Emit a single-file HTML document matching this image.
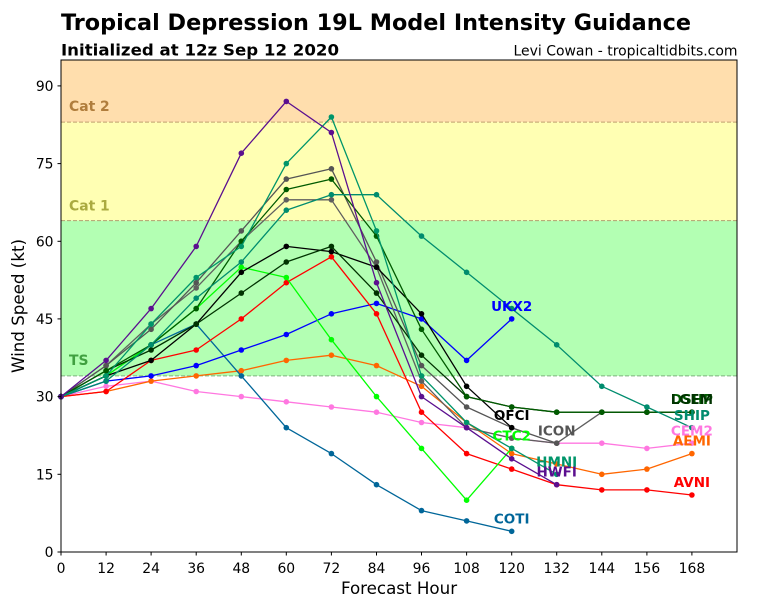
<!DOCTYPE html>
<html><head><meta charset="utf-8"><style>
html,body{margin:0;padding:0;background:#fff;}
svg{display:block;}
text{font-family:"DejaVu Sans","Liberation Sans",sans-serif;}
</style></head><body>
<svg width="768" height="600" viewBox="0 0 768 600" xmlns="http://www.w3.org/2000/svg">
<defs>
<marker id="mHW" markerWidth="6" markerHeight="6" refX="3" refY="3" markerUnits="userSpaceOnUse"><circle cx="3" cy="3" r="2.8" fill="#5b0f8f"/></marker>
<marker id="mHM" markerWidth="6" markerHeight="6" refX="3" refY="3" markerUnits="userSpaceOnUse"><circle cx="3" cy="3" r="2.8" fill="#00956a"/></marker>
<marker id="mSH" markerWidth="6" markerHeight="6" refX="3" refY="3" markerUnits="userSpaceOnUse"><circle cx="3" cy="3" r="2.8" fill="#008c6e"/></marker>
<marker id="mIC" markerWidth="6" markerHeight="6" refX="3" refY="3" markerUnits="userSpaceOnUse"><circle cx="3" cy="3" r="2.8" fill="#555555"/></marker>
<marker id="mGB" markerWidth="6" markerHeight="6" refX="3" refY="3" markerUnits="userSpaceOnUse"><circle cx="3" cy="3" r="2.8" fill="#5f5f5f"/></marker>
<marker id="mDS" markerWidth="6" markerHeight="6" refX="3" refY="3" markerUnits="userSpaceOnUse"><circle cx="3" cy="3" r="2.8" fill="#005a00"/></marker>
<marker id="mLG" markerWidth="6" markerHeight="6" refX="3" refY="3" markerUnits="userSpaceOnUse"><circle cx="3" cy="3" r="2.8" fill="#003300"/></marker>
<marker id="mOF" markerWidth="6" markerHeight="6" refX="3" refY="3" markerUnits="userSpaceOnUse"><circle cx="3" cy="3" r="2.8" fill="#000000"/></marker>
<marker id="mCT" markerWidth="6" markerHeight="6" refX="3" refY="3" markerUnits="userSpaceOnUse"><circle cx="3" cy="3" r="2.8" fill="#00ff00"/></marker>
<marker id="mUK" markerWidth="6" markerHeight="6" refX="3" refY="3" markerUnits="userSpaceOnUse"><circle cx="3" cy="3" r="2.8" fill="#0000ff"/></marker>
<marker id="mAV" markerWidth="6" markerHeight="6" refX="3" refY="3" markerUnits="userSpaceOnUse"><circle cx="3" cy="3" r="2.8" fill="#ff0000"/></marker>
<marker id="mAE" markerWidth="6" markerHeight="6" refX="3" refY="3" markerUnits="userSpaceOnUse"><circle cx="3" cy="3" r="2.8" fill="#ff6600"/></marker>
<marker id="mCE" markerWidth="6" markerHeight="6" refX="3" refY="3" markerUnits="userSpaceOnUse"><circle cx="3" cy="3" r="2.8" fill="#ff77e0"/></marker>
<marker id="mCO" markerWidth="6" markerHeight="6" refX="3" refY="3" markerUnits="userSpaceOnUse"><circle cx="3" cy="3" r="2.8" fill="#006699"/></marker>
</defs>

<!-- Titles -->
<text x="61" y="30" font-size="22" font-weight="bold" fill="#000" textLength="630" lengthAdjust="spacingAndGlyphs">Tropical Depression 19L Model Intensity Guidance</text>
<text x="61" y="55.5" font-size="16" font-weight="bold" fill="#000" textLength="278" lengthAdjust="spacingAndGlyphs">Initialized at 12z Sep 12 2020</text>
<text x="737.5" y="55.5" font-size="13.9" fill="#000" text-anchor="end" textLength="224" lengthAdjust="spacingAndGlyphs">Levi Cowan - tropicaltidbits.com</text>

<!-- Bands -->
<rect x="61" y="60" width="676" height="62.1" fill="#ffdead"/>
<rect x="61" y="122.1" width="676" height="98.5" fill="#ffffb3"/>
<rect x="61" y="220.6" width="676" height="155.3" fill="#b3ffb3"/>
<line x1="61" y1="122.1" x2="737" y2="122.1" stroke="#c0a070" stroke-width="1" stroke-dasharray="4,2"/>
<line x1="61" y1="220.6" x2="737" y2="220.6" stroke="#b0a070" stroke-width="1" stroke-dasharray="4,2"/>
<line x1="61" y1="375.9" x2="737" y2="375.9" stroke="#80b080" stroke-width="1" stroke-dasharray="4,2"/>
<text x="69" y="111" font-size="13.9" font-weight="bold" fill="#b07d3c">Cat 2</text>
<text x="69" y="210.5" font-size="13.9" font-weight="bold" fill="#aaaa40">Cat 1</text>
<text x="69" y="365" font-size="13.9" font-weight="bold" fill="#40a040">TS</text>

<!-- Series -->
<g fill="none" stroke-width="1.3" stroke-linejoin="round">
<polyline stroke="#ff77e0" marker-start="url(#mCE)" marker-mid="url(#mCE)" marker-end="url(#mCE)" points="61,396.6 106.1,386.3 151.1,381.1 196.2,391.5 241.3,396.6 286.3,401.8 331.4,407.0 376.5,412.2 421.5,422.5 466.6,427.7 511.7,438.1 556.7,443.2 601.8,443.2 646.9,448.4 691.9,443.2"/>
<polyline stroke="#ff6600" marker-start="url(#mAE)" marker-mid="url(#mAE)" marker-end="url(#mAE)" points="61,396.6 106.1,391.5 151.1,381.1 196.2,375.9 241.3,370.7 286.3,360.4 331.4,355.2 376.5,365.6 421.5,386.3 466.6,422.5 511.7,453.6 556.7,464.0 601.8,474.3 646.9,469.1 691.9,453.6"/>
<polyline stroke="#006699" marker-start="url(#mCO)" marker-mid="url(#mCO)" marker-end="url(#mCO)" points="61,396.6 106.1,375.9 151.1,344.8 196.2,324.1 241.3,375.9 286.3,427.7 331.4,453.6 376.5,484.7 421.5,510.6 466.6,520.9 511.7,531.3"/>
<polyline stroke="#0000ff" marker-start="url(#mUK)" marker-mid="url(#mUK)" marker-end="url(#mUK)" points="61,396.6 106.1,381.1 151.1,375.9 196.2,365.6 241.3,350.0 286.3,334.5 331.4,313.8 376.5,303.4 421.5,318.9 466.6,360.4 511.7,318.9"/>
<polyline stroke="#ff0000" marker-start="url(#mAV)" marker-mid="url(#mAV)" marker-end="url(#mAV)" points="61,396.6 106.1,391.5 151.1,360.4 196.2,350.0 241.3,318.9 286.3,282.7 331.4,256.8 376.5,313.8 421.5,412.2 466.6,453.6 511.7,469.1 556.7,484.7 601.8,489.9 646.9,489.9 691.9,495.0"/>
<polyline stroke="#00ff00" marker-start="url(#mCT)" marker-mid="url(#mCT)" marker-end="url(#mCT)" points="61,396.6 106.1,375.9 151.1,344.8 196.2,308.6 241.3,267.2 286.3,277.5 331.4,339.7 376.5,396.6 421.5,448.4 466.6,500.2 511.7,448.4"/>
<polyline stroke="#5f5f5f" marker-start="url(#mGB)" marker-mid="url(#mGB)" marker-end="url(#mGB)" points="61,396.6 106.1,365.6 151.1,324.1 196.2,287.9 241.3,241.3 286.3,199.8 331.4,199.8 376.5,267.2 421.5,381.1 466.6,427.7 511.7,438.1 556.7,443.2 601.8,412.2 646.9,412.2 691.9,412.2"/>
<polyline stroke="#555555" marker-start="url(#mIC)" marker-mid="url(#mIC)" marker-end="url(#mIC)" points="61,396.6 106.1,365.6 151.1,329.3 196.2,282.7 241.3,230.9 286.3,179.1 331.4,168.8 376.5,262.0 421.5,365.6 466.6,407.0 511.7,427.7 556.7,443.2"/>
<polyline stroke="#000000" marker-start="url(#mOF)" marker-mid="url(#mOF)" marker-end="url(#mOF)" points="61,396.6 106.1,375.9 151.1,360.4 196.2,324.1 241.3,272.3 286.3,246.4 331.4,251.6 376.5,267.2 421.5,313.8 466.6,386.3 511.7,427.7"/>
<polyline stroke="#003300" marker-start="url(#mLG)" marker-mid="url(#mLG)" marker-end="url(#mLG)" points="61,396.6 106.1,370.7 151.1,350.0 196.2,324.1 241.3,293.1 286.3,262.0 331.4,246.4 376.5,293.1 421.5,355.2 466.6,396.6 511.7,407.0 556.7,412.2 601.8,412.2 646.9,412.2 691.9,412.2"/>
<polyline stroke="#005a00" marker-start="url(#mDS)" marker-mid="url(#mDS)" marker-end="url(#mDS)" points="61,396.6 106.1,370.7 151.1,344.8 196.2,308.6 241.3,241.3 286.3,189.5 331.4,179.1 376.5,236.1 421.5,329.3 466.6,396.6 511.7,407.0 556.7,412.2 601.8,412.2 646.9,412.2 691.9,412.2"/>
<polyline stroke="#008c6e" marker-start="url(#mSH)" marker-mid="url(#mSH)" marker-end="url(#mSH)" points="61,396.6 106.1,381.1 151.1,344.8 196.2,298.2 241.3,262.0 286.3,210.2 331.4,194.7 376.5,194.7 421.5,236.1 466.6,272.3 511.7,308.6 556.7,344.8 601.8,386.3 646.9,407.0 691.9,427.7"/>
<polyline stroke="#00956a" marker-start="url(#mHM)" marker-mid="url(#mHM)" marker-end="url(#mHM)" points="61,396.6 106.1,375.9 151.1,324.1 196.2,277.5 241.3,246.4 286.3,163.6 331.4,117.0 376.5,230.9 421.5,375.9 466.6,422.5 511.7,448.4 556.7,474.3"/>
<polyline stroke="#5b0f8f" marker-start="url(#mHW)" marker-mid="url(#mHW)" marker-end="url(#mHW)" points="61,396.6 106.1,360.4 151.1,308.6 196.2,246.4 241.3,153.2 286.3,101.4 331.4,132.5 376.5,282.7 421.5,396.6 466.6,427.7 511.7,458.8 556.7,484.7"/>
</g>

<!-- Series labels -->
<g font-size="13.5" font-weight="bold" text-anchor="middle">
<text x="511.7" y="311" fill="#0000ff">UKX2</text>
<text x="511.7" y="420" fill="#000000">OFCI</text>
<text x="511.7" y="440.5" fill="#00ff00">CTC2</text>
<text x="511.7" y="523.3" fill="#006699">COTI</text>
<text x="556.7" y="435.3" fill="#555555">ICON</text>
<text x="556.7" y="466.4" fill="#00956a">HMNI</text>
<text x="556.7" y="476.7" fill="#5b0f8f">HWFI</text>
<text x="691.9" y="404.2" fill="#005a00">DSHP</text>
<text x="691.9" y="404.2" fill="#003300">LGEM</text>
<text x="691.9" y="419.8" fill="#008c6e">SHIP</text>
<text x="691.9" y="435.3" fill="#ff77e0">CEM2</text>
<text x="691.9" y="445.7" fill="#ff6600">AEMI</text>
<text x="691.9" y="487.1" fill="#ff0000">AVNI</text>
</g>

<!-- Frame -->
<rect x="61" y="60" width="676" height="492" fill="none" stroke="#000" stroke-width="1"/>

<!-- Y ticks -->
<g stroke="#000" stroke-width="1">
<line x1="57.5" y1="552" x2="61" y2="552"/>
<line x1="57.5" y1="474.3" x2="61" y2="474.3"/>
<line x1="57.5" y1="396.6" x2="61" y2="396.6"/>
<line x1="57.5" y1="318.9" x2="61" y2="318.9"/>
<line x1="57.5" y1="241.3" x2="61" y2="241.3"/>
<line x1="57.5" y1="163.6" x2="61" y2="163.6"/>
<line x1="57.5" y1="85.9" x2="61" y2="85.9"/>
</g>
<g font-size="13.9" fill="#000" text-anchor="end">
<text x="53.5" y="557">0</text>
<text x="53.5" y="479.3">15</text>
<text x="53.5" y="401.6">30</text>
<text x="53.5" y="323.9">45</text>
<text x="53.5" y="246.3">60</text>
<text x="53.5" y="168.6">75</text>
<text x="53.5" y="90.9">90</text>
</g>

<!-- X ticks -->
<g stroke="#000" stroke-width="1">
<line x1="61" y1="552" x2="61" y2="555.5"/>
<line x1="106.1" y1="552" x2="106.1" y2="555.5"/>
<line x1="151.1" y1="552" x2="151.1" y2="555.5"/>
<line x1="196.2" y1="552" x2="196.2" y2="555.5"/>
<line x1="241.3" y1="552" x2="241.3" y2="555.5"/>
<line x1="286.3" y1="552" x2="286.3" y2="555.5"/>
<line x1="331.4" y1="552" x2="331.4" y2="555.5"/>
<line x1="376.5" y1="552" x2="376.5" y2="555.5"/>
<line x1="421.5" y1="552" x2="421.5" y2="555.5"/>
<line x1="466.6" y1="552" x2="466.6" y2="555.5"/>
<line x1="511.7" y1="552" x2="511.7" y2="555.5"/>
<line x1="556.7" y1="552" x2="556.7" y2="555.5"/>
<line x1="601.8" y1="552" x2="601.8" y2="555.5"/>
<line x1="646.9" y1="552" x2="646.9" y2="555.5"/>
<line x1="691.9" y1="552" x2="691.9" y2="555.5"/>
</g>
<g font-size="13.9" fill="#000" text-anchor="middle">
<text x="61" y="573">0</text>
<text x="106.1" y="573">12</text>
<text x="151.1" y="573">24</text>
<text x="196.2" y="573">36</text>
<text x="241.3" y="573">48</text>
<text x="286.3" y="573">60</text>
<text x="331.4" y="573">72</text>
<text x="376.5" y="573">84</text>
<text x="421.5" y="573">96</text>
<text x="466.6" y="573">108</text>
<text x="511.7" y="573">120</text>
<text x="556.7" y="573">132</text>
<text x="601.8" y="573">144</text>
<text x="646.9" y="573">156</text>
<text x="691.9" y="573">168</text>
</g>

<!-- Axis labels -->
<text x="399" y="594" font-size="16.7" fill="#000" text-anchor="middle">Forecast Hour</text>
<text transform="translate(24,306) rotate(-90)" x="0" y="0" font-size="16.7" fill="#000" text-anchor="middle">Wind Speed (kt)</text>
</svg>
</body></html>
